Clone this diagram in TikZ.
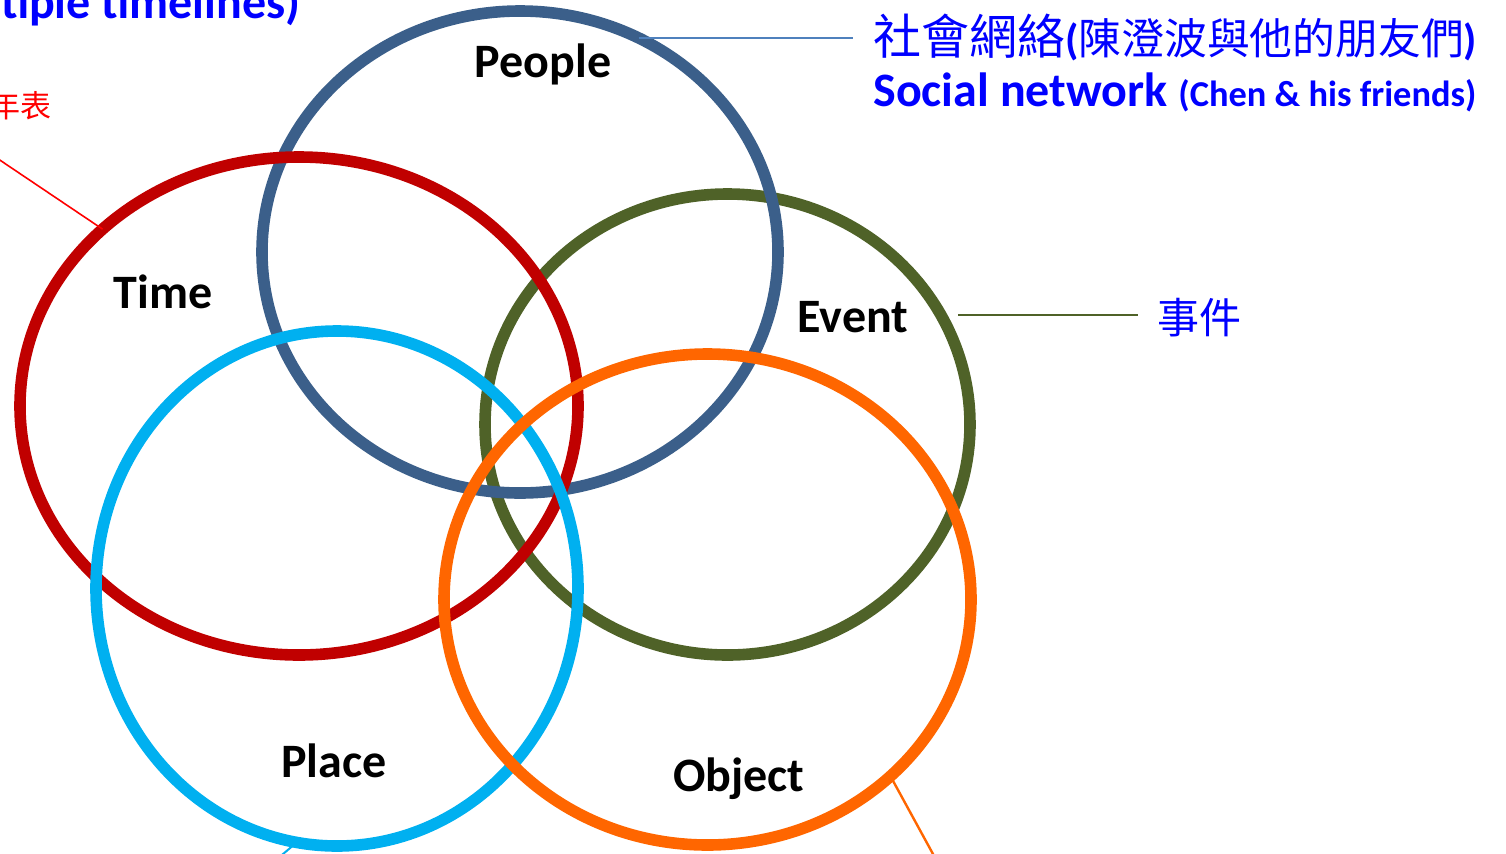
\documentclass[tikz,border=0pt]{standalone}
\usepackage{fontspec}
\setmainfont{Carlito}
\newfontfamily\cjk{Noto Sans CJK TC}
\usetikzlibrary{shapes.geometric}
\definecolor{peopleblue}{HTML}{3B5F8A}
\definecolor{timered}{HTML}{C00000}
\definecolor{eventgreen}{HTML}{4F6228}
\definecolor{placecyan}{HTML}{00B0F0}
\definecolor{objorange}{HTML}{FF6600}
\definecolor{linkblue}{HTML}{4F81BD}
\definecolor{labblue}{HTML}{0000FF}
\definecolor{labred}{HTML}{FF0000}
\begin{document}
\begin{tikzpicture}[x=0.5pt,y=-0.5pt,
  ring/.style={ellipse, draw, line width=5.8pt, inner sep=0pt, outer sep=0pt},
  lab/.style={font=\bfseries\fontsize{24pt}{28pt}\selectfont, anchor=base, inner sep=0pt, text=black},
  bluelab/.style={inner sep=0pt, text=labblue},
  thin/.style={line width=1pt}]
\useasboundingbox (0,0) rectangle (1506,853);
\clip (0,0) rectangle (1506,853);
% rings
\node[ring, draw=eventgreen, minimum width=242.5pt, minimum height=230.5pt] (event) at (727.5,424.5) {};
\node[ring, draw=peopleblue, minimum width=258pt, minimum height=241pt] (people) at (520,252) {};
\node[ring, draw=timered, minimum width=279pt, minimum height=249pt] (time) at (299,406) {};
\node[ring, draw=placecyan, minimum width=241pt, minimum height=257.5pt] (place) at (337,588.5) {};
\node[ring, draw=objorange, minimum width=263.5pt, minimum height=245.5pt] (object) at (707.5,599.5) {};
% ring labels
\node[lab] (tpeople) at (543,77) {People};
\node[lab] (ttime) at (163,308) {Time};
\node[lab] (tevent) at (853,332) {Event};
\node[lab] (tplace) at (334,777) {Place};
\node[lab] (tobject) at (739,791) {Object};
% outside labels
\node[bluelab, anchor=base east, font=\bfseries\fontsize{24pt}{28pt}\selectfont] (mt) at (301,18) {(multiple timelines)};
\node[inner sep=0pt, text=labred, anchor=base east, font=\cjk\fontsize{15.5pt}{18pt}\selectfont] (nianbiao) at (52,117) {年表};
\node[bluelab, anchor=base west, font=\cjk\fontsize{24pt}{28pt}\selectfont] (sncn) at (873,54.5)
  {社會網絡{\fontsize{21.4pt}{24pt}\selectfont{\rmfamily\bfseries(}陳澄波與他的朋友們{\rmfamily\bfseries)}}};
\node[bluelab, anchor=base west, font=\bfseries\fontsize{24pt}{28pt}\selectfont] (snen) at (873,106)
  {Social network {\fontsize{18.2pt}{20pt}\selectfont(Chen \& his friends)}};
\node[bluelab, anchor=base west, font=\cjk\fontsize{21pt}{24pt}\selectfont] (evcn) at (1157,333) {事件};
% connectors
\coordinate (snend) at (853,35);
\coordinate (ev1) at (958,315);
\coordinate (ev2) at (1138,315);
\coordinate (rt) at (-30,140);
\coordinate (pl) at (270,865);
\coordinate (ob) at (939,865);
\draw[thin, linkblue] (people.61.7) -- (people.61.7 -| snend);
\draw[thin, eventgreen] (ev1) -- (ev2);
\draw[line width=0.8pt, labred] (time.138.2) -- (rt);
\draw[thin, placecyan] (place.261.2) -- (pl);
\draw[line width=1.2pt, objorange] (object.316.7) -- (ob);
\end{tikzpicture}
\end{document}
